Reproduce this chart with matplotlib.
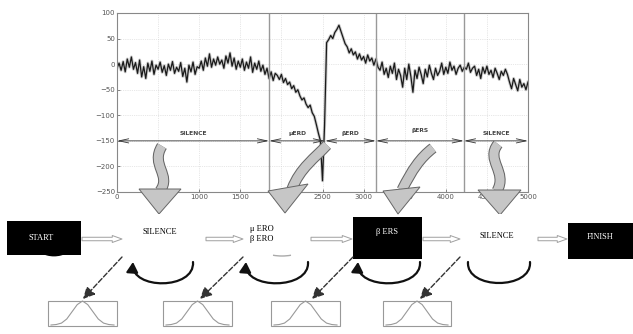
import numpy as np
import matplotlib
matplotlib.use("Agg")
import matplotlib.pyplot as plt
from matplotlib.patches import FancyArrowPatch, Rectangle, Polygon, PathPatch, Arc
from matplotlib.path import Path
import matplotlib.patheffects as pe


# ── Data ────────────────────────────────────────────────────────────

sample_step = 25  # signal sampled every 25 units, 0..5000

signal = [
    # 0 - 475
    -8, 2, -12, 5, -15, 10, -6, 14, -10, 3, -18, 8, -25, -5, -28, 2, -14, 6, -20, -2,
    # 500 - 975
    -10, 4, -16, -3, -22, 0, -12, 5, -18, -6, -14, 3, -24, -8, -35, -2, -15, 4, -20, -5,
    # 1000 - 1475
    -8, 6, -12, 12, -4, 20, -6, 10, -2, 14, 0, 8, -8, 16, 2, 22, -4, 12, -10, 6,
    # 1500 - 1825
    -6, 10, -12, 4, -8, 14, -16, 2, -10, 6, -14, -2, -20, -8,
    # 1850 - 2475
    -28, -15, -32, -18, -22, -30, -20, -36, -28, -40, -35, -48, -42, -55, -50, -62,
    -70, -66, -78, -85, -80, -95, -102, -118, -135, -150,
    # 2500 - 2725
    -228, -120, 42, 48, 56, 50, 62, 68, 76, 64,
    # 2750 - 3175
    52, 40, 34, 22, 30, 18, 24, 10, 20, 8, 15, 2, 18, 6, 12, -2, 10, -6,
    # 3200 - 3975
    -12, 4, -20, -8, -26, -4, -18, 2, -30, -10, -22, -45, -8, -30, 0, -24, -55, -12,
    -28, -6, -20, -38, -10, -25, -2, -18, -30, -8, -22, -14, 2, -20,
    # 4000 - 4475
    -6, -18, 4, -12, -4, -20, -8, -2, -14, -6, -10, 2, -16, -8, -4, -22, -10, -28, -6, -18,
    # 4500 - 5000
    -4, -20, -12, -26, -8, -18, -30, -14, -22, -10, -20, -35, -48, -28, -40, -52, -30,
    -45, -38, -50, -35,
]

segment_edges = [0, 1850, 2530, 3150, 4220, 5000]
segment_labels = ["SILENCE", "\u03bcERD", "\u03b2ERD", "\u03b2ERS", "SILENCE"]
segment_label_y = [-135, -135, -135, -130, -135]

x_ticks = [0, 500, 1000, 1500, 2000, 2500, 3000, 3500, 4000, 4500, 5000]
y_ticks = [100, 50, 0, -50, -100, -150, -200, -250]

# HMM states (lower diagram)
state_names = ["START", "SILENCE", "\u03bc ERO\n\u03b2 ERO", "\u03b2 ERS", "SILENCE", "FINISH"]
state_black = [True, False, False, True, False, True]

# rough gaussian profile seen in the emission boxes
gauss_shape = [0.0, 0.02, 0.08, 0.25, 0.55, 0.85, 1.0, 0.85, 0.55, 0.25, 0.08, 0.02, 0.0]


# ── Figure ──────────────────────────────────────────────────────────

W, H = 633, 334
fig = plt.figure(figsize=(W / 100, H / 100), dpi=100)
fig.patch.set_facecolor("white")

ax = fig.add_axes([117 / W, 1 - 192 / H, 411 / W, 179 / H])
t = np.arange(len(signal)) * sample_step
ax.plot(t, signal, color="#aaaaaa", lw=2.2, alpha=0.6)
ax.plot(t, signal, color="#1a1a1a", lw=0.9)
ax.set_xlim(0, 5000)
ax.set_ylim(-250, 100)
ax.set_xticks(x_ticks)
ax.set_yticks(y_ticks)
ax.tick_params(labelsize=5, colors="#555555", direction="in", length=2, width=0.5, pad=1.5)
ax.grid(True, linestyle=":", color="#d0d0d0", lw=0.5)
for sp in ax.spines.values():
    sp.set_color("#888888")
    sp.set_linewidth(0.8)

for e in segment_edges[1:-1]:
    if e != 2530:
        ax.axvline(e, color="#999999", lw=1.0)

for i, lab in enumerate(segment_labels):
    a, b = segment_edges[i], segment_edges[i + 1]
    ax.annotate("", xy=(a, -150), xytext=(b, -150),
                arrowprops=dict(arrowstyle="<->,head_length=0.7,head_width=0.15",
                                color="#333333", lw=0.6, shrinkA=0, shrinkB=0))
    ax.text((a + b) / 2, segment_label_y[i], lab, ha="center", va="center",
            fontsize=4.3, fontweight="bold", color="#444444")


# ── Overlay in pixel coordinates ────────────────────────────────────

ov = fig.add_axes([0, 0, 1, 1])
ov.set_xlim(0, W)
ov.set_ylim(H, 0)
ov.axis("off")

# big gray wavy arrows from segments to states
gray_arrows = [
    ([(162, 146), (150, 165), (172, 175), (160, 191)], [(139, 189), (181, 189), (159, 214)]),
    ([(327, 145), (315, 158), (300, 168), (292, 189)], [(268, 191), (308, 184), (285, 213)]),
    ([(433, 148), (420, 158), (412, 170), (402, 190)], [(383, 191), (420, 187), (398, 214)]),
    ([(498, 144), (485, 160), (508, 172), (497, 191)], [(478, 190), (521, 190), (500, 215)]),
]
for body, head in gray_arrows:
    p = Path(body, [Path.MOVETO, Path.CURVE4, Path.CURVE4, Path.CURVE4])
    ov.add_patch(PathPatch(p, fill=False, lw=6.5, edgecolor="#c6c6c6", capstyle="butt",
                           path_effects=[pe.Stroke(linewidth=8, foreground="#666666"), pe.Normal()]))
    ov.add_patch(Polygon(head, closed=True, fc="#c6c6c6", ec="#666666", lw=0.7))

# faint leftover arcs peeking out under START and the mu/beta ERO state
ov.add_patch(Arc((54, 248), 28, 14, theta1=20, theta2=160, color="black", lw=2.0, zorder=5))
ov.add_patch(Arc((282, 250), 36, 12, theta1=30, theta2=150, color="#aaaaaa", lw=1.0, zorder=5))

# state boxes
boxes = [(7, 221, 74, 34), (122, 214, 83, 46), (243, 214, 77, 46),
         (353, 217, 69, 42), (460, 214, 75, 46), (568, 223, 65, 36)]
text_pos = [(41, 238), (160, 232), (262, 234), (387, 232), (497, 236), (600, 237)]
for (x0, y0, w, h), name, black, (tx, ty) in zip(boxes, state_names, state_black, text_pos):
    ov.add_patch(Rectangle((x0, y0), w, h, fc="black" if black else "white", ec="none"))
    ov.text(tx, ty, name, ha="center", va="center", fontsize=6, family="Liberation Serif",
            color="white" if black else "black", linespacing=1.3)

# hollow transition arrows
trans = [(82, 122), (206, 243), (311, 352), (423, 460), (538, 567)]
for a, b in trans:
    ov.add_patch(FancyArrowPatch((a, 239), (b, 239),
                                 arrowstyle="simple,head_length=7,head_width=5,tail_width=2.5",
                                 fc="white", ec="#a0a0a0", lw=0.7, shrinkA=0, shrinkB=0))

# self loops
loops = [(193, 133, True), (308, 246, True), (420, 358, True), (530, 468, False)]
for a, b, head in loops:
    style = "-|>,head_length=6,head_width=3.5" if head else "-"
    p = Path([(a, 262), (a + 2, 290), (b - 2, 290), (b, 262)],
             [Path.MOVETO, Path.CURVE4, Path.CURVE4, Path.CURVE4])
    ov.add_patch(FancyArrowPatch(path=p, arrowstyle=style, color="#111111", lw=1.6))

# dashed emission arrows
emis = [((122, 257), (83, 299)), ((243, 257), (200, 299)),
        ((353, 257), (312, 299)), ((460, 257), (420, 299))]
for s, e in emis:
    ov.add_patch(FancyArrowPatch(s, e, arrowstyle="-|>,head_length=7,head_width=3.5",
                                 color="#333333", lw=1.0, linestyle="--",
                                 shrinkA=0, shrinkB=0))

# emission pdf boxes
pdf_boxes = [(48, 301, 69, 25), (163, 301, 69, 25), (271, 301, 69, 25), (383, 301, 68, 25)]
for x0, y0, w, h in pdf_boxes:
    ov.add_patch(Rectangle((x0, y0), w, h, fc="none", ec="#999999", lw=0.8))
    n = len(gauss_shape)
    gx = [x0 + 3 + i * (w - 6) / (n - 1) for i in range(n)]
    gy = [y0 + h - 1 - v * (h - 1) for v in gauss_shape]
    ov.plot(gx, gy, color="#999999", lw=0.8)

fig.savefig("out.png", dpi=100)
